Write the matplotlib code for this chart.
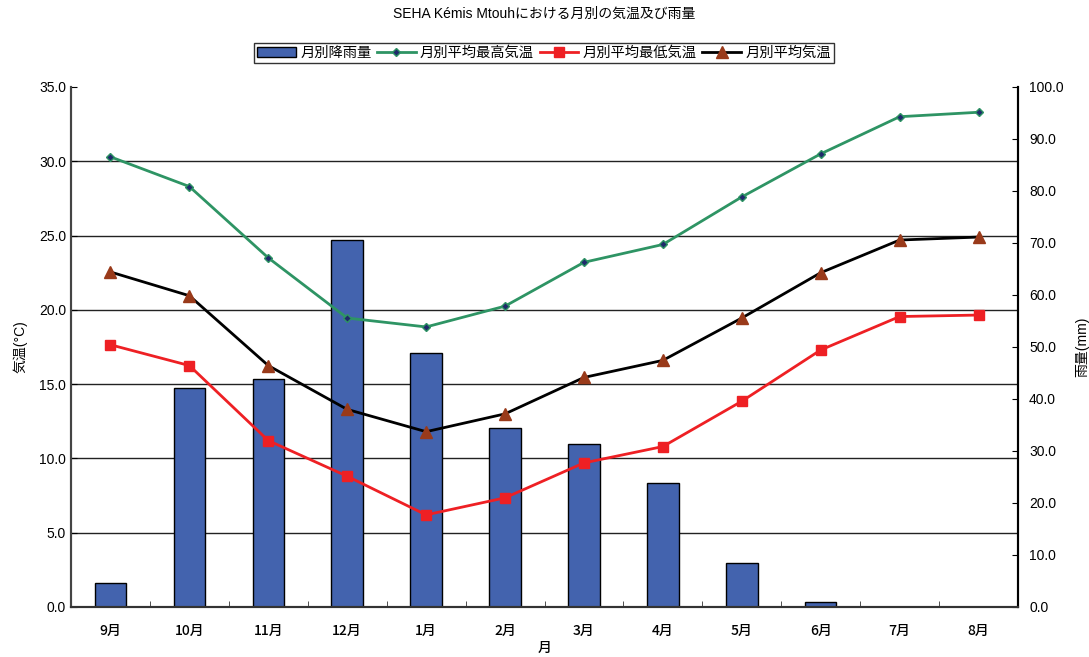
import matplotlib.pyplot as plt

plt.rcParams['font.family'] = ['Liberation Sans', 'Noto Sans CJK JP', 'DejaVu Sans']

months = ['9月', '10月', '11月', '12月', '1月', '2月', '3月', '4月', '5月', '6月', '7月', '8月']
rain = [4.6, 42.2, 43.9, 70.5, 48.9, 34.4, 31.3, 23.8, 8.5, 0.9, 0.0, 0.0]
temp_max = [30.3, 28.3, 23.5, 19.45, 18.85, 20.25, 23.2, 24.4, 27.6, 30.5, 33.0, 33.3]
temp_min = [17.65, 16.25, 11.2, 8.8, 6.2, 7.35, 9.7, 10.8, 13.85, 17.3, 19.55, 19.65]
temp_avg = [22.55, 20.95, 16.25, 13.3, 11.8, 13.0, 15.45, 16.6, 19.45, 22.5, 24.7, 24.9]

temp_ticks = [0, 5, 10, 15, 20, 25, 30, 35]
rain_ticks = [0, 10, 20, 30, 40, 50, 60, 70, 80, 90, 100]

x = list(range(len(months)))

fig = plt.figure(figsize=(10.89, 6.57), dpi=100)
ax = fig.add_axes([71 / 1089, 1 - 607 / 657, 947 / 1089, 520 / 657])
ax_r = ax.twinx()
ax.set_zorder(ax_r.get_zorder() + 1)
ax.patch.set_visible(False)
ax_r.patch.set_facecolor('#c0c0c0')

# rainfall bars on the right axis, horizontal grid follows the temperature ticks
scale = rain_ticks[-1] / temp_ticks[-1]
for t in temp_ticks[1:-1]:
    ax_r.axhline(t * scale, color='#222222', lw=1.0, zorder=0)
bars = ax_r.bar(x, rain, width=0.4, color='#4363ae', edgecolor='black', lw=1.0,
                zorder=2, label='月別降雨量')
ax_r.set_ylim(0, 100)
ax_r.set_yticks(rain_ticks)
ax_r.set_yticklabels([f'{v:.1f}' for v in rain_ticks], fontsize=10)
ax_r.set_ylabel('雨量(mm)', fontsize=10, labelpad=8)

# temperature lines on the left axis
l1, = ax.plot(x, temp_max, color='#2e9464', lw=2.0, marker='D', markersize=4,
              markerfacecolor='#1f2a6b', markeredgecolor='#2e9464', label='月別平均最高気温')
l2, = ax.plot(x, temp_min, color='#ee2024', lw=2.0, marker='s', markersize=7,
              markerfacecolor='#ee2024', markeredgecolor='#ee2024', label='月別平均最低気温')
l3, = ax.plot(x, temp_avg, color='black', lw=2.0, marker='^', markersize=8,
              markerfacecolor='#993a1a', markeredgecolor='#993a1a', label='月別平均気温')
ax.set_ylim(0, 35)
ax.set_yticks(temp_ticks)
ax.set_yticklabels([f'{v:.1f}' for v in temp_ticks], fontsize=10)
ax.set_ylabel('気温(°C)', fontsize=10, labelpad=8)

ax.set_xlim(-0.5, len(months) - 0.5)
ax.set_xticks(x)
ax.set_xticklabels(months, fontsize=10, family=['Noto Sans CJK JP'], fontweight='medium')
ax.set_xticks([i + 0.5 for i in x[:-1]], minor=True)
ax.tick_params(axis='x', which='major', length=0, pad=12)
ax.tick_params(axis='x', which='minor', direction='in', length=4, color='#333333')
ax.tick_params(axis='y', direction='in', length=4)
ax_r.tick_params(axis='y', direction='in', length=4, pad=8)
ax.set_xlabel('月', fontsize=10, family=['Noto Sans CJK JP'], fontweight='medium', labelpad=2)

for a in (ax, ax_r):
    a.spines['top'].set_visible(False)
    a.spines['left'].set_color('#444444')
    a.spines['bottom'].set_color('#333333')
    a.spines['right'].set_color('black')
    a.spines['bottom'].set_linewidth(1.5)
    a.spines['left'].set_linewidth(1.5)
    a.spines['right'].set_linewidth(1.5)

fig.text(0.5, 1 - 14 / 657, 'SEHA Kémis Mtouhにおける月別の気温及び雨量',
         ha='center', va='center', fontsize=10)

leg = fig.legend([bars, l1, l2, l3], [bars.get_label(), l1.get_label(), l2.get_label(), l3.get_label()],
                 loc='center', bbox_to_anchor=(544 / 1089, 1 - 53 / 657), ncol=4,
                 fontsize=10.3, frameon=True, fancybox=False, edgecolor='black',
                 handlelength=2.7, handletextpad=0.3, columnspacing=0.4,
                 borderpad=0.2, borderaxespad=0)
leg.get_frame().set_linewidth(1.0)

fig.savefig('out.png', dpi=100)
